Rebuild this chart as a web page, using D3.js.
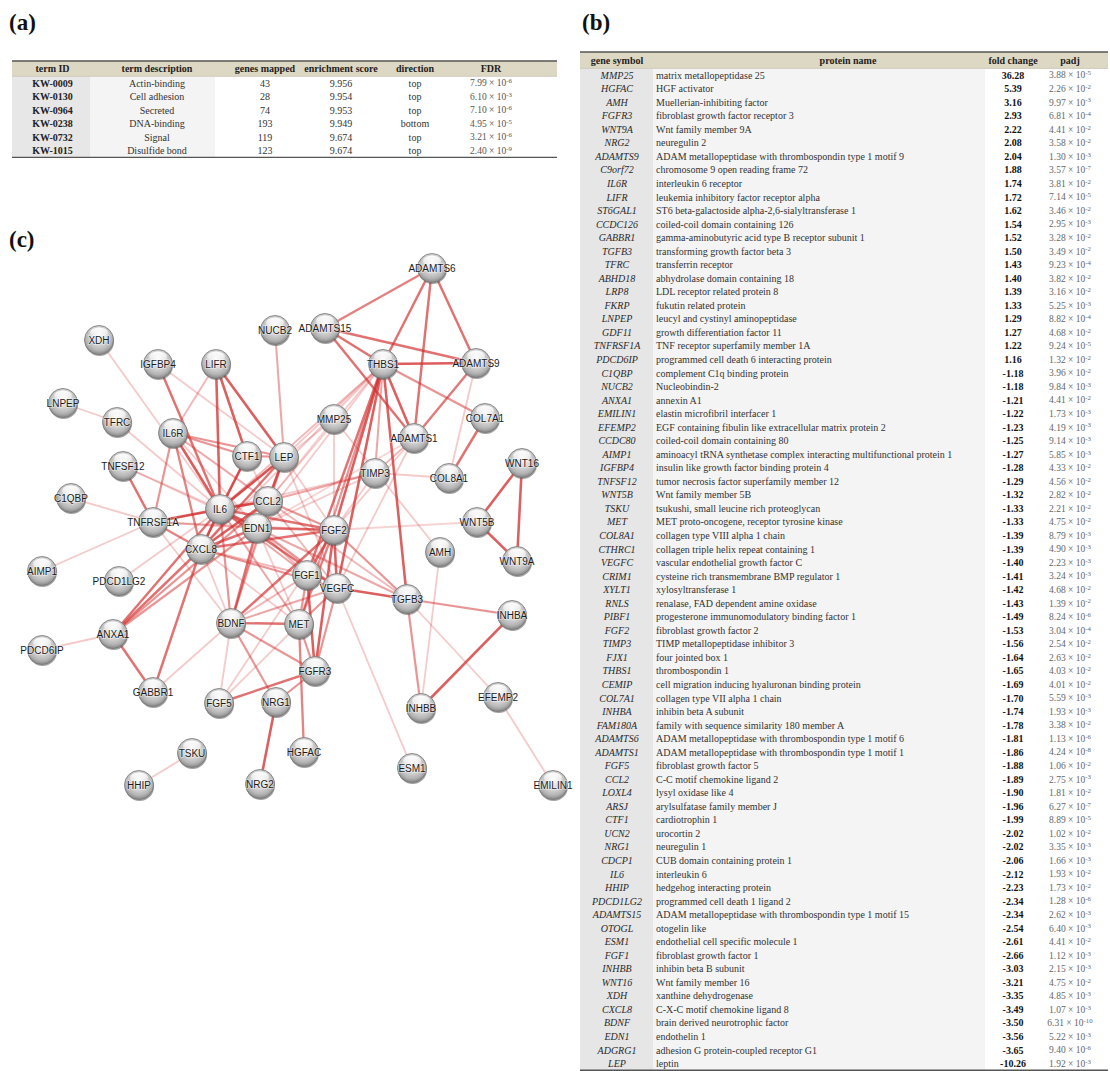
<!DOCTYPE html>
<html>
<head>
<meta charset="utf-8">
<script src="https://cdn.jsdelivr.net/npm/d3@7"></script>
<style>
  html, body { margin: 0; padding: 0; background: #fff; }
  svg { display: block; }
</style>
</head>
<body>
<svg id="fig" width="1110" height="1071"></svg>
<script>
// ---------- (a) UniProt keyword enrichment ----------
const termHeaders = ["term ID", "term description", "genes mapped", "enrichment score", "direction", "FDR"];
const termIds = ["KW-0009", "KW-0130", "KW-0964", "KW-0238", "KW-0732", "KW-1015"];
const termDescriptions = ["Actin-binding", "Cell adhesion", "Secreted", "DNA-binding", "Signal", "Disulfide bond"];
const genesMapped = [43, 28, 74, 193, 119, 123];
const enrichmentScores = [9.956, 9.954, 9.953, 9.949, 9.674, 9.674];
const directions = ["top", "top", "top", "bottom", "top", "top"];
const termFdr = [7.99e-6, 6.10e-3, 7.10e-6, 4.95e-5, 3.21e-6, 2.40e-9];

// ---------- (b) differentially expressed genes ----------
const geneHeaders = ["gene symbol", "protein name", "fold change", "padj"];
const geneSymbols = [
  "MMP25", "HGFAC", "AMH", "FGFR3", "WNT9A", "NRG2", "ADAMTS9", "C9orf72", "IL6R", "LIFR",
  "ST6GAL1", "CCDC126", "GABBR1", "TGFB3", "TFRC", "ABHD18", "LRP8", "FKRP", "LNPEP", "GDF11",
  "TNFRSF1A", "PDCD6IP", "C1QBP", "NUCB2", "ANXA1", "EMILIN1", "EFEMP2", "CCDC80", "AIMP1", "IGFBP4",
  "TNFSF12", "WNT5B", "TSKU", "MET", "COL8A1", "CTHRC1", "VEGFC", "CRIM1", "XYLT1", "RNLS",
  "PIBF1", "FGF2", "TIMP3", "FJX1", "THBS1", "CEMIP", "COL7A1", "INHBA", "FAM180A", "ADAMTS6",
  "ADAMTS1", "FGF5", "CCL2", "LOXL4", "ARSJ", "CTF1", "UCN2", "NRG1", "CDCP1", "IL6",
  "HHIP", "PDCD1LG2", "ADAMTS15", "OTOGL", "ESM1", "FGF1", "INHBB", "WNT16", "XDH", "CXCL8",
  "BDNF", "EDN1", "ADGRG1", "LEP"
];
const proteinNames = [
  "matrix metallopeptidase 25",
  "HGF activator",
  "Muellerian-inhibiting factor",
  "fibroblast growth factor receptor 3",
  "Wnt family member 9A",
  "neuregulin 2",
  "ADAM metallopeptidase with thrombospondin type 1 motif 9",
  "chromosome 9 open reading frame 72",
  "interleukin 6 receptor",
  "leukemia inhibitory factor receptor alpha",
  "ST6 beta-galactoside alpha-2,6-sialyltransferase 1",
  "coiled-coil domain containing 126",
  "gamma-aminobutyric acid type B receptor subunit 1",
  "transforming growth factor beta 3",
  "transferrin receptor",
  "abhydrolase domain containing 18",
  "LDL receptor related protein 8",
  "fukutin related protein",
  "leucyl and cystinyl aminopeptidase",
  "growth differentiation factor 11",
  "TNF receptor superfamily member 1A",
  "programmed cell death 6 interacting protein",
  "complement C1q binding protein",
  "Nucleobindin-2",
  "annexin A1",
  "elastin microfibril interfacer 1",
  "EGF containing fibulin like extracellular matrix protein 2",
  "coiled-coil domain containing 80",
  "aminoacyl tRNA synthetase complex interacting multifunctional protein 1",
  "insulin like growth factor binding protein 4",
  "tumor necrosis factor superfamily member 12",
  "Wnt family member 5B",
  "tsukushi, small leucine rich proteoglycan",
  "MET proto-oncogene, receptor tyrosine kinase",
  "collagen type VIII alpha 1 chain",
  "collagen triple helix repeat containing 1",
  "vascular endothelial growth factor C",
  "cysteine rich transmembrane BMP regulator 1",
  "xylosyltransferase 1",
  "renalase, FAD dependent amine oxidase",
  "progesterone immunomodulatory binding factor 1",
  "fibroblast growth factor 2",
  "TIMP metallopeptidase inhibitor 3",
  "four jointed box 1",
  "thrombospondin 1",
  "cell migration inducing hyaluronan binding protein",
  "collagen type VII alpha 1 chain",
  "inhibin beta A subunit",
  "family with sequence similarity 180 member A",
  "ADAM metallopeptidase with thrombospondin type 1 motif 6",
  "ADAM metallopeptidase with thrombospondin type 1 motif 1",
  "fibroblast growth factor 5",
  "C-C motif chemokine ligand 2",
  "lysyl oxidase like 4",
  "arylsulfatase family member J",
  "cardiotrophin 1",
  "urocortin 2",
  "neuregulin 1",
  "CUB domain containing protein 1",
  "interleukin 6",
  "hedgehog interacting protein",
  "programmed cell death 1 ligand 2",
  "ADAM metallopeptidase with thrombospondin type 1 motif 15",
  "otogelin like",
  "endothelial cell specific molecule 1",
  "fibroblast growth factor 1",
  "inhibin beta B subunit",
  "Wnt family member 16",
  "xanthine dehydrogenase",
  "C-X-C motif chemokine ligand 8",
  "brain derived neurotrophic factor",
  "endothelin 1",
  "adhesion G protein-coupled receptor G1",
  "leptin"
];
const foldChanges = [
  36.28, 5.39, 3.16, 2.93, 2.22, 2.08, 2.04, 1.88, 1.74, 1.72,
  1.62, 1.54, 1.52, 1.50, 1.43, 1.40, 1.39, 1.33, 1.29, 1.27,
  1.22, 1.16, -1.18, -1.18, -1.21, -1.22, -1.23, -1.25, -1.27, -1.28,
  -1.29, -1.32, -1.33, -1.33, -1.39, -1.39, -1.40, -1.41, -1.42, -1.43,
  -1.49, -1.53, -1.56, -1.64, -1.65, -1.69, -1.70, -1.74, -1.78, -1.81,
  -1.86, -1.88, -1.89, -1.90, -1.96, -1.99, -2.02, -2.02, -2.06, -2.12,
  -2.23, -2.34, -2.34, -2.54, -2.61, -2.66, -3.03, -3.21, -3.35, -3.49,
  -3.50, -3.56, -3.65, -10.26
];
const padjValues = [
  3.88e-5, 2.26e-2, 9.97e-3, 6.81e-4, 4.41e-2, 3.58e-2, 1.30e-3, 3.57e-7, 3.81e-2, 7.14e-5,
  3.46e-2, 2.95e-3, 3.28e-2, 3.49e-2, 9.23e-4, 3.82e-2, 3.16e-2, 5.25e-3, 8.82e-4, 4.68e-2,
  9.24e-5, 1.32e-2, 3.96e-2, 9.84e-3, 4.41e-2, 1.73e-3, 4.19e-3, 9.14e-3, 5.85e-3, 4.33e-2,
  4.56e-2, 2.82e-2, 2.21e-2, 4.75e-2, 8.79e-3, 4.90e-3, 2.23e-3, 3.24e-3, 4.68e-2, 1.39e-2,
  8.24e-6, 3.04e-4, 2.54e-2, 2.63e-2, 4.03e-2, 4.01e-2, 5.59e-3, 1.93e-3, 3.38e-2, 1.13e-6,
  4.24e-8, 1.06e-2, 2.75e-3, 1.81e-2, 6.27e-7, 8.89e-5, 1.02e-2, 3.35e-3, 1.66e-3, 1.93e-2,
  1.73e-2, 1.28e-6, 2.62e-3, 6.40e-3, 4.41e-2, 1.12e-3, 2.15e-3, 4.75e-2, 4.85e-3, 1.07e-3,
  6.31e-10, 5.22e-3, 9.40e-6, 1.92e-3
];

// ---------- (c) protein interaction network ----------
const nodeNames = [
  "ADAMTS6", "ADAMTS15", "NUCB2", "XDH", "IGFBP4", "LIFR", "THBS1", "ADAMTS9", "LNPEP", "TFRC",
  "IL6R", "MMP25", "COL7A1", "ADAMTS1", "CTF1", "LEP", "TIMP3", "COL8A1", "WNT16", "TNFSF12",
  "C1QBP", "CCL2", "IL6", "TNFRSF1A", "EDN1", "FGF2", "CXCL8", "WNT5B", "AMH", "WNT9A",
  "AIMP1", "PDCD1LG2", "FGF1", "VEGFC", "TGFB3", "INHBA", "ANXA1", "BDNF", "MET", "PDCD6IP",
  "FGFR3", "GABBR1", "FGF5", "NRG1", "INHBB", "EFEMP2", "HGFAC", "TSKU", "ESM1", "EMILIN1",
  "HHIP", "NRG2"
];
// layout coordinates of the exported network (layout units)
const nodeLayoutX = [
  412, 305, 255, 79, 138, 196, 363, 456, 43, 97,
  153, 314, 465, 394, 227, 264, 355, 429, 502, 103,
  51, 248, 200, 133, 237, 314, 181, 457, 420, 497,
  22, 99, 287, 317, 387, 492, 93, 211, 279, 22,
  295, 133, 199, 256, 401, 478, 284, 172, 392, 533,
  119, 240
];
const nodeLayoutY = [
  18, 78, 80, 90, 114, 114, 114, 113, 153, 172,
  183, 169, 168, 188, 206, 207, 223, 228, 213, 216,
  248, 251, 259, 272, 278, 280, 299, 272, 302, 311,
  321, 331, 325, 338, 349, 365, 384, 373, 374, 400,
  421, 442, 453, 452, 458, 447, 502, 503, 518, 535,
  535, 534
];
// interactions: [source, target, combined score]
const edgeList = [
  ["ADAMTS6", "ADAMTS15", 0.72], ["ADAMTS6", "THBS1", 0.8], ["ADAMTS6", "ADAMTS1", 0.8], ["ADAMTS6", "ADAMTS9", 0.8],
  ["ADAMTS15", "THBS1", 0.8], ["ADAMTS15", "ADAMTS9", 0.8], ["ADAMTS15", "ADAMTS1", 0.8],
  ["THBS1", "ADAMTS9", 0.92], ["THBS1", "ADAMTS1", 0.9], ["THBS1", "COL7A1", 0.62], ["ADAMTS9", "ADAMTS1", 0.75],
  ["ADAMTS9", "COL8A1", 0.3], ["COL7A1", "COL8A1", 0.8], ["THBS1", "TIMP3", 0.5], ["THBS1", "FGF2", 0.9],
  ["THBS1", "VEGFC", 0.9], ["THBS1", "FGF1", 0.8], ["THBS1", "TGFB3", 0.9], ["THBS1", "MET", 0.6],
  ["THBS1", "LEP", 0.3], ["THBS1", "CCL2", 0.3], ["THBS1", "IL6", 0.4], ["THBS1", "EDN1", 0.3], ["THBS1", "CXCL8", 0.3],
  ["NUCB2", "LEP", 0.5], ["MMP25", "FGF2", 0.3], ["MMP25", "AMH", 0.3], ["MMP25", "CCL2", 0.25], ["MMP25", "IL6", 0.25],
  ["ADAMTS1", "FGF2", 0.3], ["ADAMTS1", "VEGFC", 0.3], ["ADAMTS1", "EDN1", 0.25], ["ADAMTS1", "TIMP3", 0.4],
  ["TIMP3", "COL8A1", 0.3], ["TIMP3", "CCL2", 0.5], ["TIMP3", "IL6", 0.3], ["TIMP3", "EDN1", 0.3], ["TIMP3", "FGF2", 0.3],
  ["WNT16", "WNT5B", 0.9], ["WNT16", "WNT9A", 0.9], ["WNT5B", "WNT9A", 0.9], ["FGF2", "WNT5B", 0.25],
  ["AMH", "INHBB", 0.3], ["TGFB3", "INHBB", 0.6], ["TGFB3", "INHBA", 0.6], ["TGFB3", "EFEMP2", 0.3],
  ["INHBA", "INHBB", 0.9], ["EFEMP2", "EMILIN1", 0.3], ["VEGFC", "TGFB3", 0.9], ["VEGFC", "ESM1", 0.3],
  ["FGF2", "TGFB3", 0.6], ["EDN1", "TGFB3", 0.5], ["CCL2", "TGFB3", 0.4],
  ["XDH", "IL6", 0.3], ["LNPEP", "TFRC", 0.3], ["TFRC", "IL6", 0.3], ["IGFBP4", "IL6", 0.8], ["IGFBP4", "LEP", 0.3],
  ["LIFR", "IL6R", 0.4], ["LIFR", "IL6", 0.9], ["LIFR", "CTF1", 0.9], ["LIFR", "LEP", 0.9],
  ["IL6R", "IL6", 0.92], ["IL6R", "CTF1", 0.6], ["IL6R", "LEP", 0.6], ["IL6R", "TNFRSF1A", 0.6], ["IL6R", "CXCL8", 0.7],
  ["IL6R", "CCL2", 0.5], ["IL6R", "EDN1", 0.3],
  ["TNFSF12", "TNFRSF1A", 0.8], ["TNFSF12", "IL6", 0.3], ["TNFSF12", "EDN1", 0.3], ["C1QBP", "TNFRSF1A", 0.3],
  ["TNFRSF1A", "IL6", 0.9], ["TNFRSF1A", "CXCL8", 0.7], ["TNFRSF1A", "AIMP1", 0.3], ["TNFRSF1A", "EDN1", 0.4],
  ["TNFRSF1A", "CCL2", 0.5], ["TNFRSF1A", "BDNF", 0.3], ["TNFRSF1A", "FGF2", 0.3], ["PDCD1LG2", "IL6", 0.3],
  ["ANXA1", "CXCL8", 0.8], ["ANXA1", "IL6", 0.8], ["ANXA1", "CCL2", 0.6], ["ANXA1", "EDN1", 0.6],
  ["ANXA1", "PDCD6IP", 0.3], ["ANXA1", "GABBR1", 0.8], ["GABBR1", "CXCL8", 0.8], ["GABBR1", "BDNF", 0.3],
  ["BDNF", "IL6", 0.6], ["BDNF", "EDN1", 0.8], ["BDNF", "CCL2", 0.4], ["BDNF", "FGF2", 0.8], ["BDNF", "FGF1", 0.4],
  ["BDNF", "MET", 0.8], ["BDNF", "FGFR3", 0.6], ["BDNF", "NRG1", 0.6], ["BDNF", "FGF5", 0.3], ["BDNF", "VEGFC", 0.5],
  ["BDNF", "CXCL8", 0.3], ["FGF5", "FGFR3", 0.8], ["FGF5", "MET", 0.3], ["FGF5", "FGF2", 0.3],
  ["NRG1", "NRG2", 0.9], ["NRG1", "FGFR3", 0.6], ["MET", "HGFAC", 0.7], ["MET", "FGF1", 0.6], ["MET", "FGF2", 0.7],
  ["MET", "VEGFC", 0.6], ["MET", "FGFR3", 0.6], ["FGF1", "FGFR3", 0.9], ["FGF2", "FGFR3", 0.9], ["FGF2", "FGF1", 0.8],
  ["VEGFC", "FGFR3", 0.6], ["FGF2", "VEGFC", 0.9], ["FGF1", "CXCL8", 0.4], ["FGF1", "IL6", 0.5], ["FGF1", "EDN1", 0.4],
  ["TSKU", "HHIP", 0.3],
  ["IL6", "CCL2", 0.95], ["IL6", "EDN1", 0.9], ["IL6", "CXCL8", 0.95], ["IL6", "LEP", 0.95], ["IL6", "CTF1", 0.9],
  ["IL6", "FGF2", 0.8], ["IL6", "VEGFC", 0.8], ["IL6", "MET", 0.5],
  ["LEP", "CCL2", 0.8], ["LEP", "EDN1", 0.6], ["LEP", "CXCL8", 0.8], ["LEP", "FGF2", 0.3], ["LEP", "VEGFC", 0.3],
  ["LEP", "BDNF", 0.5], ["LEP", "CTF1", 0.6],
  ["CCL2", "EDN1", 0.8], ["CCL2", "CXCL8", 0.9], ["CCL2", "FGF2", 0.6], ["CCL2", "VEGFC", 0.4],
  ["EDN1", "CXCL8", 0.8], ["EDN1", "FGF2", 0.8], ["EDN1", "VEGFC", 0.6], ["EDN1", "MET", 0.3],
  ["CXCL8", "FGF2", 0.8], ["CXCL8", "VEGFC", 0.6], ["CXCL8", "MET", 0.3], ["CTF1", "CCL2", 0.3], ["CTF1", "CXCL8", 0.5]
];

// ---------------------------------------------------------------------------
const svg = d3.select("#fig");
const SERIF = "'Liberation Serif', 'Times New Roman', serif";
const SANS = "'Liberation Sans', Arial, sans-serif";
const HEADER_FILL = "#ddd8c3";

// scientific notation "m.mm × 10^e" with a raised exponent
function sciText(sel, v) {
  const [m, e] = v.toExponential(2).split("e");
  sel.text(null);
  sel.append("tspan").text(m + " × 10");
  sel.append("tspan").attr("dy", "-0.45em").attr("font-size", "0.72em").text(String(+e));
}

// panel letters
[["(a)", 9, 30], ["(b)", 582, 30], ["(c)", 9, 247]].forEach(([t, x, y]) => {
  svg.append("text").attr("x", x).attr("y", y)
    .attr("font-family", SERIF).attr("font-weight", "bold").attr("font-size", 23)
    .attr("fill", "#111").text(t);
});

// ---------- table (a) ----------
(function () {
  const g = svg.append("g");
  const x0 = 12, x1 = 557, top = 61, headBottom = 76.3;
  const rows = d3.scaleBand().domain(d3.range(termIds.length)).range([headBottom, headBottom + 13.5 * termIds.length]);
  const bottom = rows.range()[1];
  const colCenter = [52.5, 157, 265, 341, 415, 491];

  g.append("rect").attr("x", x0).attr("y", top).attr("width", x1 - x0).attr("height", headBottom - top).attr("fill", HEADER_FILL);
  g.append("rect").attr("x", x0).attr("y", headBottom).attr("width", 78).attr("height", bottom - headBottom).attr("fill", "#e7e7e7");
  g.append("rect").attr("x", 90).attr("y", headBottom).attr("width", 125).attr("height", bottom - headBottom).attr("fill", "#f4f4f4");
  g.append("line").attr("x1", x0).attr("x2", x1).attr("y1", top).attr("y2", top).attr("stroke", "#555").attr("stroke-width", 1.5);
  g.append("line").attr("x1", x0).attr("x2", x1).attr("y1", headBottom).attr("y2", headBottom).attr("stroke", "#b9b5a3").attr("stroke-width", 0.6);
  g.append("line").attr("x1", x0).attr("x2", x1).attr("y1", bottom).attr("y2", bottom).attr("stroke", "#555").attr("stroke-width", 1.2);

  g.selectAll("text.h").data(termHeaders).join("text")
    .attr("x", (d, i) => colCenter[i]).attr("y", (top + headBottom) / 2).attr("dy", "0.35em")
    .attr("text-anchor", "middle").attr("font-family", SERIF).attr("font-weight", "bold")
    .attr("font-size", 10).attr("fill", "#222").text(d => d);

  const cells = [
    termIds, termDescriptions, genesMapped.map(String), enrichmentScores.map(v => v.toFixed(3)), directions
  ];
  cells.forEach((col, c) => {
    g.selectAll("text.c" + c).data(col).join("text")
      .attr("x", colCenter[c]).attr("y", (d, i) => rows(i) + rows.bandwidth() / 2).attr("dy", "0.35em")
      .attr("text-anchor", "middle").attr("font-family", SERIF).attr("font-size", 10)
      .attr("font-weight", c === 0 ? "bold" : "normal")
      .attr("fill", c === 0 ? "#222" : "#333").text(d => d);
  });
  g.selectAll("text.fdr").data(termFdr).join("text")
    .attr("x", colCenter[5]).attr("y", (d, i) => rows(i) + rows.bandwidth() / 2).attr("dy", "0.35em")
    .attr("text-anchor", "middle").attr("font-family", SERIF).attr("font-size", 9.5).attr("fill", "#555")
    .each(function (d) { sciText(d3.select(this), d); });
})();

// ---------- table (b) ----------
(function () {
  const g = svg.append("g");
  const x0 = 580, x1 = 1108, top = 52, headBottom = 68.4;
  const rows = d3.scaleBand().domain(d3.range(geneSymbols.length)).range([headBottom, headBottom + 13.54 * geneSymbols.length]);
  const bottom = rows.range()[1];
  const yMid = i => rows(i) + rows.bandwidth() / 2;

  g.append("rect").attr("x", x0).attr("y", top).attr("width", x1 - x0).attr("height", headBottom - top).attr("fill", HEADER_FILL);
  g.append("rect").attr("x", x0).attr("y", headBottom).attr("width", 73).attr("height", bottom - headBottom).attr("fill", "#e6e6e6");
  g.append("rect").attr("x", 653).attr("y", headBottom).attr("width", 332).attr("height", bottom - headBottom).attr("fill", "#f4f4f4");
  g.append("line").attr("x1", x0).attr("x2", x1).attr("y1", top).attr("y2", top).attr("stroke", "#555").attr("stroke-width", 1.5);
  g.append("line").attr("x1", x0).attr("x2", x1).attr("y1", headBottom).attr("y2", headBottom).attr("stroke", "#b9b5a3").attr("stroke-width", 0.6);
  g.append("line").attr("x1", x0).attr("x2", x1).attr("y1", bottom).attr("y2", bottom).attr("stroke", "#555").attr("stroke-width", 1.5);

  const headX = [617, 848, 1013, 1070];
  g.selectAll("text.h").data(geneHeaders).join("text")
    .attr("x", (d, i) => headX[i]).attr("y", (top + headBottom) / 2).attr("dy", "0.35em")
    .attr("text-anchor", "middle").attr("font-family", SERIF).attr("font-weight", "bold")
    .attr("font-size", 10).attr("fill", "#222").text(d => d);

  g.selectAll("text.sym").data(geneSymbols).join("text")
    .attr("x", 617).attr("y", (d, i) => yMid(i)).attr("dy", "0.35em").attr("text-anchor", "middle")
    .attr("font-family", SERIF).attr("font-style", "italic").attr("font-size", 10).attr("fill", "#2a2a2a")
    .text(d => d);
  g.selectAll("text.pn").data(proteinNames).join("text")
    .attr("x", 656).attr("y", (d, i) => yMid(i)).attr("dy", "0.35em")
    .attr("font-family", SERIF).attr("font-size", 10).attr("fill", "#333").text(d => d);
  g.selectAll("text.fc").data(foldChanges).join("text")
    .attr("x", 1013).attr("y", (d, i) => yMid(i)).attr("dy", "0.35em").attr("text-anchor", "middle")
    .attr("font-family", SERIF).attr("font-weight", "bold").attr("font-size", 10).attr("fill", "#111")
    .text(d => d.toFixed(2));
  g.selectAll("text.pa").data(padjValues).join("text")
    .attr("x", 1070).attr("y", (d, i) => yMid(i)).attr("dy", "0.35em").attr("text-anchor", "middle")
    .attr("font-family", SERIF).attr("font-size", 9.5).attr("fill", "#666")
    .each(function (d) { sciText(d3.select(this), d); });
})();

// ---------- network (c) ----------
(function () {
  const g = svg.append("g");
  const nx = d3.scaleLinear().domain([0, 540]).range([20, 560]);
  const ny = d3.scaleLinear().domain([0, 540]).range([250, 790]);
  const idx = new Map(nodeNames.map((n, i) => [n, i]));
  const px = n => nx(nodeLayoutX[idx.get(n)]);
  const py = n => ny(nodeLayoutY[idx.get(n)]);
  const edgeOpacity = d3.scaleLinear().domain([0.2, 1]).range([0.17, 0.85]);
  const edgeWidth = d3.scaleLinear().domain([0.2, 1]).range([1.7, 2.7]);
  const R = 14.5;

  const defs = svg.append("defs");
  const sphere = defs.append("radialGradient").attr("id", "sphere")
    .attr("cx", "50%").attr("cy", "42%").attr("r", "58%").attr("fx", "50%").attr("fy", "30%");
  [[0, "#fbfbfb"], [0.45, "#dcdcdc"], [0.8, "#b4b4b4"], [1, "#858585"]].forEach(([o, c]) =>
    sphere.append("stop").attr("offset", o).attr("stop-color", c));
  const gloss = defs.append("linearGradient").attr("id", "gloss").attr("x1", 0).attr("y1", 0).attr("x2", 0).attr("y2", 1);
  gloss.append("stop").attr("offset", 0).attr("stop-color", "#fff").attr("stop-opacity", 0.95);
  gloss.append("stop").attr("offset", 1).attr("stop-color", "#fff").attr("stop-opacity", 0.1);

  const edges = edgeList.slice().sort((a, b) => a[2] - b[2]);
  g.append("g").selectAll("line").data(edges).join("line")
    .attr("x1", d => px(d[0])).attr("y1", d => py(d[0]))
    .attr("x2", d => px(d[1])).attr("y2", d => py(d[1]))
    .attr("stroke", "#d32f2f").attr("stroke-opacity", d => edgeOpacity(d[2]))
    .attr("stroke-width", d => edgeWidth(d[2])).attr("stroke-linecap", "round");

  const nodes = g.append("g").selectAll("g").data(nodeNames).join("g")
    .attr("transform", d => `translate(${px(d)},${py(d)})`);
  nodes.append("circle").attr("cx", 0.6).attr("cy", 1.4).attr("r", R).attr("fill", "#555").attr("opacity", 0.55);
  nodes.append("circle").attr("r", R).attr("fill", "url(#sphere)").attr("stroke", "#777").attr("stroke-width", 0.8);
  nodes.append("ellipse").attr("cx", 0).attr("cy", -R * 0.5).attr("rx", R * 0.62).attr("ry", R * 0.36)
    .attr("fill", "url(#gloss)");
  nodes.append("text").attr("dy", "0.36em").attr("text-anchor", "middle")
    .attr("font-family", SANS).attr("font-size", 10).attr("fill", "#1c1c1c")
    .attr("stroke", "#fff").attr("stroke-opacity", 0.45).attr("stroke-width", 1.6).attr("paint-order", "stroke")
    .text(d => d);
})();
</script>
</body>
</html>
